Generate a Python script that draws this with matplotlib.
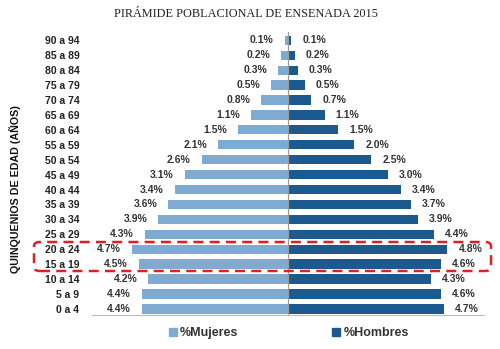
import matplotlib
matplotlib.use("Agg")
import matplotlib.pyplot as plt
from matplotlib.patches import FancyBboxPatch, Patch

groups = ["0 a 4", "5 a 9", "10 a 14", "15 a 19", "20 a 24", "25 a 29", "30 a 34",
          "35 a 39", "40 a 44", "45 a 49", "50 a 54", "55 a 59", "60 a 64", "65 a 69",
          "70 a 74", "75 a 79", "80 a 84", "85 a 89", "90 a 94"]
mujeres = [4.4, 4.4, 4.2, 4.5, 4.7, 4.3, 3.9, 3.6, 3.4, 3.1, 2.6, 2.1, 1.5, 1.1,
           0.8, 0.5, 0.3, 0.2, 0.1]
hombres = [4.7, 4.6, 4.3, 4.6, 4.8, 4.4, 3.9, 3.7, 3.4, 3.0, 2.5, 2.0, 1.5, 1.1,
           0.7, 0.5, 0.3, 0.2, 0.1]
title = "PIRÁMIDE POBLACIONAL DE ENSENADA 2015"
ylabel = "QUINQUENIOS DE EDAD (AÑOS)"

c_muj = "#7FAAD2"
c_hom = "#1A5A8E"
plt.rcParams['font.family'] = ['Liberation Sans', 'DejaVu Sans']

fig = plt.figure(figsize=(5.0, 3.49), dpi=100)
ax = fig.add_axes([0.184, 0.097, 0.784, 0.811])
y = list(range(len(groups)))
ax.barh(y, [-v for v in mujeres], height=0.62, color=c_muj)
ax.barh(y, hombres, height=0.62, color=c_hom)
ax.set_xlim(-5.9, 5.9)
ax.set_ylim(-0.42, 18.55)
ax.axvline(0, color="#999999", lw=0.9)
for s in ["top", "right", "left"]:
    ax.spines[s].set_visible(False)
ax.spines["bottom"].set_color("#bbbbbb")
ax.set_xticks([])
ax.set_yticks(y)
ax.set_yticklabels(groups, fontsize=7.5, fontweight="bold", color="#222222")
ax.tick_params(axis="y", length=0, pad=9)

for yi, v in zip(y, mujeres):
    ax.annotate(f"{v:.1f}%", xy=(-v, yi), xytext=(-8, 0), textcoords="offset points",
                ha="right", va="center", fontsize=7.5, fontweight="bold", color="#333333")
for yi, v in zip(y, hombres):
    ax.annotate(f"{v:.1f}%", xy=(v, yi), xytext=(8, 0), textcoords="offset points",
                ha="left", va="center", fontsize=7.5, fontweight="bold", color="#333333")

fig.text(0.492, 0.96, title, ha="center", va="center", fontsize=8.8,
         family=["Liberation Serif", "DejaVu Serif"], color="#222222")
fig.text(0.03, 0.458, ylabel, rotation=90, ha="center", va="center",
         fontsize=7.7, fontweight="bold", color="#111111")

box = FancyBboxPatch((0.068, 1 - 271 / 349), 0.914, 29 / 349,
                     boxstyle="round,pad=0,rounding_size=0.012",
                     transform=fig.transFigure, fill=False, edgecolor="#e02020",
                     lw=1.8, ls=(0, (4, 2.5)))
fig.patches.append(box)

handles = [Patch(color=c_muj, label="%Mujeres"), Patch(color=c_hom, label="%Hombres")]
fig.legend(handles=handles, loc="center", bbox_to_anchor=(0.578, 0.046), ncol=2,
           frameon=False, prop={"size": 9, "weight": "bold"}, handlelength=0.6,
           handleheight=0.6, handletextpad=0.3, columnspacing=7.5, labelcolor="#333333")

fig.savefig("out.png", dpi=100)
